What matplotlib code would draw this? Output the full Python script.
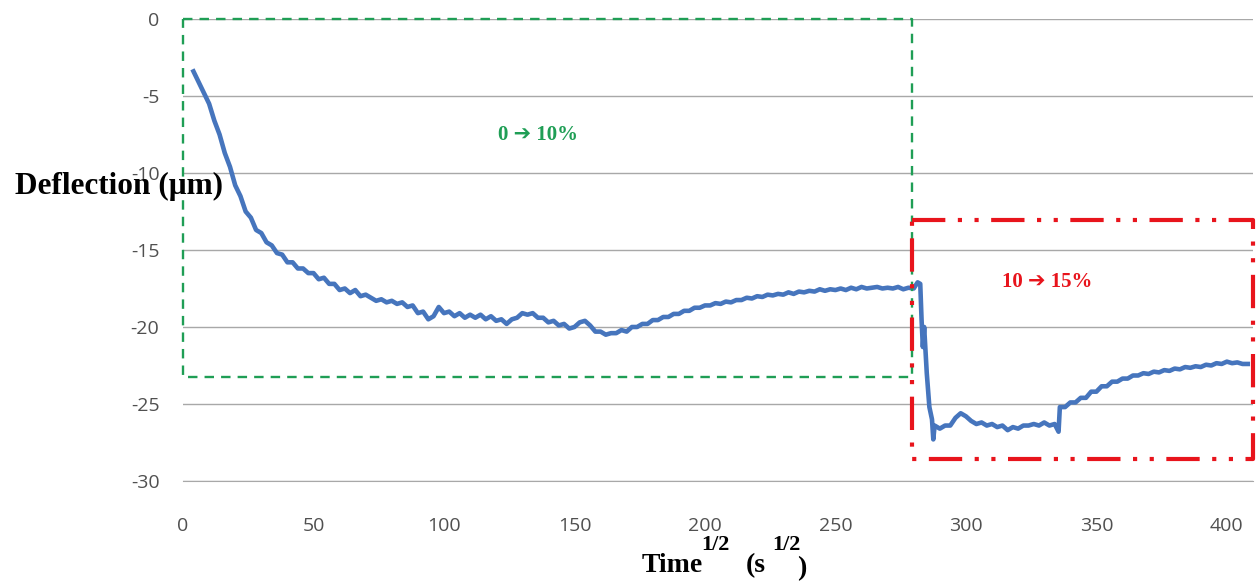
import numpy as np
import matplotlib.pyplot as plt

plt.rcParams["axes.unicode_minus"] = False

# ---- data ----
# first step (0 -> 10 %), every 2 units of sqrt(time)
t_step1 = [4, 6, 8, 10, 12, 14, 16, 18, 20, 22, 24, 26, 28, 30, 32, 34, 36, 38, 40,
           42, 44, 46, 48, 50, 52, 54, 56, 58, 60, 62, 64, 66, 68, 70, 72, 74, 76, 78,
           80, 82, 84, 86, 88, 90, 92, 94, 96, 98, 100, 102, 104, 106, 108, 110, 112,
           114, 116, 118, 120, 122, 124, 126, 128, 130, 132, 134, 136, 138, 140, 142,
           144, 146, 148, 150, 152, 154, 156, 158, 160, 162, 164, 166, 168, 170, 172,
           174, 176, 178, 180, 182, 184, 186, 188, 190, 192, 194, 196, 198, 200, 202,
           204, 206, 208, 210, 212, 214, 216, 218, 220, 222, 224, 226, 228, 230, 232,
           234, 236, 238, 240, 242, 244, 246, 248, 250, 252, 254, 256, 258, 260, 262,
           264, 266, 268, 270, 272, 274, 276, 278, 280]
d_step1 = [-3.4, -4.1, -4.8, -5.5, -6.6, -7.5, -8.7, -9.6, -10.8, -11.5, -12.5, -12.9,
           -13.7, -13.9, -14.5, -14.7, -15.2, -15.3, -15.8, -15.8, -16.2, -16.2, -16.5,
           -16.5, -16.9, -16.8, -17.2, -17.2, -17.6, -17.5, -17.8, -17.6, -18.0, -17.9,
           -18.1, -18.3, -18.2, -18.4, -18.3, -18.5, -18.4, -18.7, -18.6, -19.1, -19.0,
           -19.5, -19.3, -18.7, -19.1, -19.0, -19.3, -19.1, -19.4, -19.2, -19.4, -19.2,
           -19.5, -19.3, -19.6, -19.5, -19.8, -19.5, -19.4, -19.1, -19.2, -19.1, -19.4,
           -19.4, -19.7, -19.6, -19.9, -19.8, -20.1, -20.0, -19.7, -19.6, -19.9, -20.3,
           -20.3, -20.5, -20.4, -20.4, -20.2, -20.3, -20.0, -20.0, -19.8, -19.8, -19.55,
           -19.55, -19.35, -19.35, -19.15, -19.15, -18.95, -18.95, -18.75, -18.75, -18.6,
           -18.6, -18.45, -18.5, -18.35, -18.4, -18.25, -18.25, -18.1, -18.15, -18.0,
           -18.05, -17.9, -17.95, -17.85, -17.9, -17.75, -17.85, -17.7, -17.75, -17.65,
           -17.7, -17.55, -17.65, -17.55, -17.6, -17.5, -17.6, -17.45, -17.55, -17.4,
           -17.5, -17.45, -17.4, -17.5, -17.45, -17.5, -17.4, -17.55, -17.45, -17.5]

# second step (10 -> 15 %)
t_step2 = [281.5, 282.5, 283, 283.5, 284, 284.5, 285, 286, 287, 287.5, 288, 290, 292,
           294, 296, 298, 300, 302, 304, 306, 308, 310, 312, 314, 316, 318, 320, 322,
           324, 326, 328, 330, 332, 334, 335.5, 336, 338, 340, 342, 344, 346, 348, 350,
           352, 354, 356, 358, 360, 362, 364, 366, 368, 370, 372, 374, 376, 378, 380,
           382, 384, 386, 388, 390, 392, 394, 396, 398, 400, 402, 404, 406, 408]
d_step2 = [-17.1, -17.2, -19.5, -21.3, -20.0, -21.5, -23.0, -25.2, -26.0, -27.3, -26.4,
           -26.6, -26.4, -26.4, -25.9, -25.6, -25.8, -26.1, -26.3, -26.2, -26.4, -26.3,
           -26.5, -26.4, -26.7, -26.5, -26.6, -26.4, -26.4, -26.3, -26.4, -26.2, -26.4,
           -26.3, -26.8, -25.2, -25.2, -24.9, -24.9, -24.6, -24.6, -24.2, -24.2, -23.85,
           -23.85, -23.55, -23.55, -23.35, -23.35, -23.15, -23.15, -23.0, -23.05, -22.9,
           -22.95, -22.8, -22.85, -22.7, -22.75, -22.6, -22.65, -22.55, -22.6, -22.45,
           -22.5, -22.35, -22.4, -22.25, -22.35, -22.3, -22.4, -22.4]

# boxes marking the two humidity steps: (x0, x1, y_top, y_bottom)
box_1 = (0, 279.3, 0, -23.25)
box_2 = (279.5, 410, -13.05, -28.6)
label_1 = "0 \u2794 10%"
label_2 = "10 \u2794 15%"

x_ticks = [0, 50, 100, 150, 200, 250, 300, 350, 400]
y_ticks = [0, -5, -10, -15, -20, -25, -30]

# ---- figure ----
W, H = 1257, 585
fig = plt.figure(figsize=(W / 100, H / 100), dpi=100)
ax = fig.add_axes([0.1456, 0.1778, 0.8512, 0.7897])

t = t_step1 + t_step2
d = d_step1 + d_step2
ax.plot(t, d, color="#4675bd", lw=3.3, solid_joinstyle="round", zorder=3)

def draw_box(box, **kw):
    x0, x1, y0, y1 = box
    ax.plot([x0, x1, x1, x0, x0], [y0, y0, y1, y1, y0], clip_on=False, zorder=4, **kw)

draw_box(box_1, color="#1f9e55", lw=1.7, ls=(0, (4, 3)))
draw_box(box_2, color="#e8141c", lw=3.0, ls=(0, (8, 3, 1, 3, 1, 3)))

arrow_font = ["Liberation Serif", "DejaVu Sans"]
ax.text(136, -7.5, label_1, color="#1f9e55", fontsize=15, fontweight="bold",
        family=arrow_font, ha="center", va="center")
ax.text(331, -17.1, label_2, color="#e8141c", fontsize=15, fontweight="bold",
        family=arrow_font, ha="center", va="center")

ax.set_xlim(0, 410)
ax.set_ylim(-30, 0)
ax.set_xticks(x_ticks)
ax.set_yticks(y_ticks)
ax.grid(axis="y", color="#a8a8a8", lw=1.0)
ax.set_axisbelow(True)
for s in ["left", "right", "top"]:
    ax.spines[s].set_visible(False)
ax.spines["bottom"].set_color("#a8a8a8")
ax.tick_params(length=0, labelcolor="#505050", labelsize=14)
ax.tick_params(axis="x", pad=26)
ax.tick_params(axis="y", pad=17)
for lab in ax.get_xticklabels() + ax.get_yticklabels():
    lab.set_family(["Open Sans", "DejaVu Sans"])

# axis titles, drawn as free text like in the original
serif_b = dict(fontweight="bold", family="Liberation Serif", va="baseline", ha="left")
fig.text(15 / W, 1 - 186 / H, "Deflection (\u03bcm)", fontsize=22.5,
         fontweight="bold", family="Liberation Serif", ha="left", va="center")
# Time^{1/2} (s^{1/2}) with the large raised exponents of the original
fig.text(642 / W, 1 - 572 / H, "Time", fontsize=20, **serif_b)
fig.text(701 / W, 1 - 550 / H, "1/2", fontsize=16, **serif_b)
fig.text(746 / W, 1 - 572 / H, "(s", fontsize=20, **serif_b)
fig.text(772 / W, 1 - 550 / H, "1/2", fontsize=16, **serif_b)
fig.text(797 / W, 1 - 575 / H, ")", fontsize=20, **serif_b)

fig.savefig("out.png", dpi=100)
